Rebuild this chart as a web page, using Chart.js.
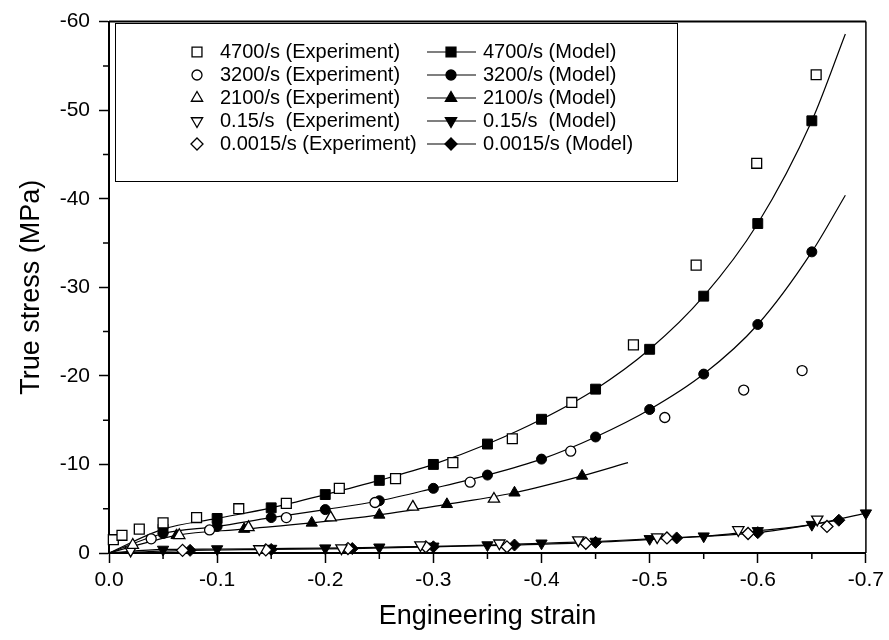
<!DOCTYPE html>
<html>
<head>
<meta charset="utf-8">
<script src="https://cdn.jsdelivr.net/npm/chart.js@4/dist/chart.umd.min.js"></script>
<style>
    html, body { margin: 0; padding: 0; background: #ffffff; }
</style>
</head>
<body>
<canvas id="stressChart" width="889" height="640"></canvas>
<script>
// strain (x) and true stress in MPa (y), both negative (compression)
const exp4700X = [-0.004, -0.012, -0.028, -0.05, -0.081, -0.12, -0.164, -0.213, -0.265, -0.318, -0.373, -0.428, -0.485, -0.543, -0.599, -0.654];
const exp4700Y = [-1.5, -2.0, -2.7, -3.4, -4.0, -5.0, -5.6, -7.3, -8.4, -10.2, -12.9, -17.0, -23.5, -32.5, -44.0, -54.0];
const exp3200X = [-0.039, -0.093, -0.164, -0.246, -0.334, -0.427, -0.514, -0.587, -0.641];
const exp3200Y = [-1.6, -2.6, -4.0, -5.7, -8.0, -11.5, -15.3, -18.4, -20.6];
const exp2100X = [-0.022, -0.065, -0.129, -0.205, -0.281, -0.356];
const exp2100Y = [-0.9, -2.0, -2.9, -4.0, -5.2, -6.1];
const exp015X = [-0.02, -0.139, -0.215, -0.288, -0.361, -0.434, -0.507, -0.582, -0.655];
const exp015Y = [-0.3, -0.45, -0.55, -0.9, -1.1, -1.45, -1.8, -2.6, -3.8];
const exp00015X = [-0.068, -0.145, -0.221, -0.293, -0.368, -0.441, -0.516, -0.591, -0.664];
const exp00015Y = [-0.3, -0.35, -0.5, -0.7, -0.7, -1.1, -1.7, -2.2, -3.0];

// model curves: first point (origin) is where the line starts, no marker there
const model4700X = [0, -0.05, -0.1, -0.15, -0.2, -0.25, -0.3, -0.35, -0.4, -0.45, -0.5, -0.55, -0.6, -0.65, -0.681];
const model4700Y = [0, -2.7, -3.9, -5.1, -6.6, -8.2, -10.0, -12.3, -15.1, -18.5, -23.0, -29.0, -37.2, -48.8, -58.6];
const model3200X = [0, -0.05, -0.1, -0.15, -0.2, -0.25, -0.3, -0.35, -0.4, -0.45, -0.5, -0.55, -0.6, -0.65, -0.681];
const model3200Y = [0, -2.2, -3.0, -4.0, -4.9, -5.9, -7.3, -8.8, -10.6, -13.1, -16.2, -20.2, -25.8, -34.0, -40.4];
const model2100X = [0, -0.0625, -0.125, -0.1875, -0.25, -0.3125, -0.375, -0.4375, -0.48];
const model2100Y = [0, -2.0, -2.7, -3.4, -4.3, -5.5, -6.8, -8.7, -10.2];
const model015X = [0, -0.05, -0.1, -0.15, -0.2, -0.25, -0.3, -0.35, -0.4, -0.45, -0.5, -0.55, -0.6, -0.65, -0.7];
const model015Y = [0, -0.4, -0.45, -0.5, -0.55, -0.65, -0.75, -0.9, -1.1, -1.3, -1.6, -1.9, -2.5, -3.2, -4.5];
const model00015X = [0, -0.075, -0.15, -0.225, -0.3, -0.375, -0.45, -0.525, -0.6, -0.675];
const model00015Y = [0, -0.3, -0.4, -0.5, -0.7, -0.9, -1.2, -1.7, -2.3, -3.7];

const expLabels = ['4700/s (Experiment)', '3200/s (Experiment)', '2100/s (Experiment)', '0.15/s  (Experiment)', '0.0015/s (Experiment)'];
const modelLabels = ['4700/s (Model)', '3200/s (Model)', '2100/s (Model)', '0.15/s  (Model)', '0.0015/s (Model)'];

const strainTicks = [0, -0.1, -0.2, -0.3, -0.4, -0.5, -0.6, -0.7];
const strainMinorTicks = [-0.05, -0.15, -0.25, -0.35, -0.45, -0.55, -0.65];
const stressTicks = [0, -10, -20, -30, -40, -50, -60];
const stressMinorTicks = [-5, -15, -25, -35, -45, -55];

const FONT = '"Liberation Sans", Arial, Helvetica, sans-serif';

// one marker per strain rate, same order as the labels
const markers = [
    { style: 'rect', radius: 7, rotation: 0 },
    { style: 'circle', radius: 5, rotation: 0 },
    { style: 'triangle', radius: 6.5, rotation: 0 },
    { style: 'triangle', radius: 6.5, rotation: 180 },
    { style: 'rectRot', radius: 6, rotation: 0 },
];

const toPoints = (xs, ys) => xs.map((x, i) => ({ x: x, y: ys[i] }));

function expDataset(xs, ys, m) {
    return {
        data: toPoints(xs, ys),
        showLine: false,
        pointStyle: m.style,
        pointRotation: m.rotation,
        pointRadius: m.radius,
        pointBackgroundColor: '#ffffff',
        pointBorderColor: '#000000',
        pointBorderWidth: 1.3,
        clip: false,
        order: 0,
    };
}

function modelDataset(xs, ys, m, bareEnd) {
    const last = xs.length - 1;
    return {
        data: toPoints(xs, ys),
        showLine: true,
        borderColor: '#000000',
        borderWidth: 1.2,
        cubicInterpolationMode: 'monotone',
        pointStyle: m.style,
        pointRotation: m.rotation,
        pointRadius: ctx => (ctx.dataIndex === 0 || (bareEnd && ctx.dataIndex === last)) ? 0 : m.radius,
        pointBackgroundColor: '#000000',
        pointBorderColor: '#000000',
        pointBorderWidth: 1,
        clip: false,
        order: 1,
    };
}

function drawMarker(ctx, m, x, y, fill) {
    ctx.fillStyle = fill;
    ctx.strokeStyle = '#000000';
    ctx.lineWidth = 1.3;
    Chart.helpers.drawPoint(ctx, { pointStyle: m.style, radius: m.radius, rotation: m.rotation, borderWidth: 1.3 }, x, y);
}

// box around the plot plus the short minor ticks
const frameAndMinorTicks = {
    id: 'frameAndMinorTicks',
    afterDraw(chart) {
        const { ctx, chartArea } = chart;
        const xScale = chart.scales.x;
        const yScale = chart.scales.y;
        ctx.save();
        ctx.strokeStyle = '#000000';
        ctx.lineWidth = 2;
        ctx.beginPath();
        ctx.moveTo(chartArea.left, chartArea.top);
        ctx.lineTo(chartArea.right, chartArea.top);
        ctx.stroke();
        ctx.lineWidth = 1.5;
        ctx.beginPath();
        ctx.moveTo(chartArea.right, chartArea.top);
        ctx.lineTo(chartArea.right, chartArea.bottom);
        ctx.stroke();

        ctx.lineWidth = 1.5;
        ctx.beginPath();
        strainMinorTicks.forEach(v => {
            const px = xScale.getPixelForValue(v);
            ctx.moveTo(px, chartArea.bottom);
            ctx.lineTo(px, chartArea.bottom + 6);
        });
        stressMinorTicks.forEach(v => {
            const py = yScale.getPixelForValue(v);
            ctx.moveTo(chartArea.left - 6, py);
            ctx.lineTo(chartArea.left, py);
        });
        ctx.stroke();
        ctx.restore();
    }
};

// two-column legend in a box: open marker for experiment, line + filled marker for model
const boxLegend = {
    id: 'boxLegend',
    afterDraw(chart) {
        const ctx = chart.ctx;
        ctx.save();
        ctx.fillStyle = '#ffffff';
        ctx.fillRect(115, 23, 562, 158);
        ctx.strokeStyle = '#000000';
        ctx.lineWidth = 1;
        ctx.strokeRect(115.5, 23.5, 562, 158);
        ctx.font = '20px ' + FONT;
        ctx.textBaseline = 'middle';
        markers.forEach((m, i) => {
            const y = 52 + i * 23;
            drawMarker(ctx, m, 197, y, '#ffffff');
            ctx.fillStyle = '#000000';
            ctx.fillText(expLabels[i], 220, y);

            ctx.strokeStyle = '#000000';
            ctx.lineWidth = 1.2;
            ctx.beginPath();
            ctx.moveTo(427, y);
            ctx.lineTo(476, y);
            ctx.stroke();
            drawMarker(ctx, m, 451, y, '#000000');
            ctx.fillStyle = '#000000';
            ctx.fillText(modelLabels[i], 483, y);
        });
        ctx.restore();
    }
};

const ctx = document.getElementById('stressChart').getContext('2d');
new Chart(ctx, {
    type: 'scatter',
    data: {
        datasets: [
            expDataset(exp4700X, exp4700Y, markers[0]),
            expDataset(exp3200X, exp3200Y, markers[1]),
            expDataset(exp2100X, exp2100Y, markers[2]),
            expDataset(exp015X, exp015Y, markers[3]),
            expDataset(exp00015X, exp00015Y, markers[4]),
            modelDataset(model4700X, model4700Y, markers[0], true),
            modelDataset(model3200X, model3200Y, markers[1], true),
            modelDataset(model2100X, model2100Y, markers[2], true),
            modelDataset(model015X, model015Y, markers[3], false),
            modelDataset(model00015X, model00015Y, markers[4], false),
        ],
    },
    options: {
        responsive: false,
        animation: false,
        devicePixelRatio: 1,
        layout: { padding: { left: 0, top: 16, right: 17, bottom: 0 } },
        plugins: {
            legend: { display: false },
            tooltip: { enabled: false },
        },
        scales: {
            x: {
                type: 'linear',
                min: -0.7,
                max: 0,
                reverse: true,
                afterBuildTicks: axis => { axis.ticks = strainTicks.map(v => ({ value: v })); },
                afterFit: axis => { axis.height = 87; },
                grid: { drawOnChartArea: false, drawTicks: true, tickLength: 10, tickColor: '#000000', tickWidth: 1.5 },
                border: { display: true, color: '#000000', width: 2 },
                ticks: {
                    color: '#000000',
                    font: { family: FONT, size: 21 },
                    padding: 5,
                    maxRotation: 0,
                    autoSkip: false,
                    callback: v => Number(v).toFixed(1),
                },
                title: {
                    display: true,
                    text: 'Engineering strain',
                    color: '#000000',
                    font: { family: FONT, size: 27 },
                    padding: { top: 0, bottom: 7 },
                },
            },
            y: {
                type: 'linear',
                min: -60,
                max: 0,
                reverse: true,
                afterBuildTicks: axis => { axis.ticks = stressTicks.map(v => ({ value: v })); },
                afterFit: axis => { axis.width = 109; },
                grid: { drawOnChartArea: false, drawTicks: true, tickLength: 10, tickColor: '#000000', tickWidth: 1.5 },
                border: { display: true, color: '#000000', width: 2 },
                ticks: {
                    color: '#000000',
                    font: { family: FONT, size: 21 },
                    padding: 9,
                    autoSkip: false,
                    callback: v => String(v),
                },
                title: {
                    display: true,
                    text: 'True stress (MPa)',
                    color: '#000000',
                    font: { family: FONT, size: 27 },
                    padding: { top: 15, bottom: 0 },
                },
            },
        },
    },
    plugins: [frameAndMinorTicks, boxLegend],
});
</script>
</body>
</html>
